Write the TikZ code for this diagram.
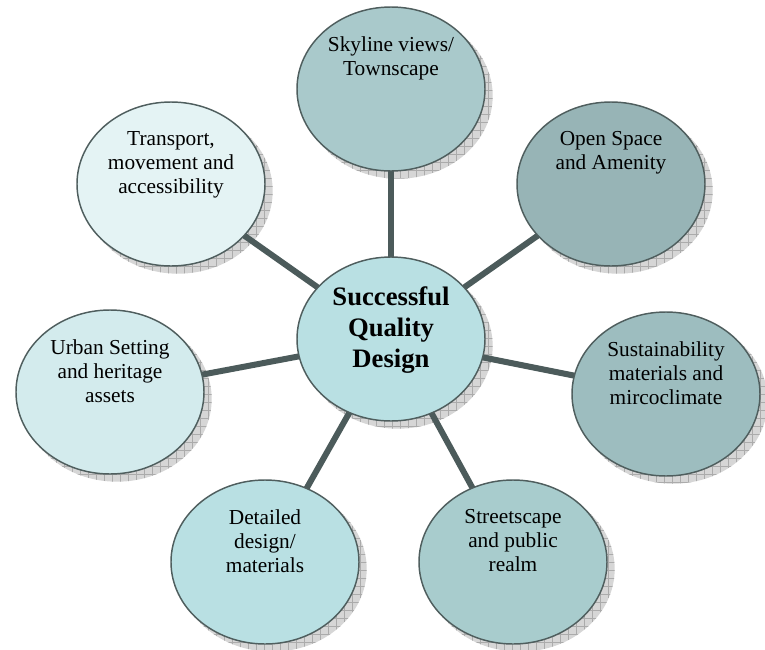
\documentclass[tikz,border=0pt]{standalone}
\usepackage{fontspec}
\setmainfont{Liberation Serif}
\usetikzlibrary{shapes.geometric,patterns.meta}

\definecolor{edgecol}{HTML}{4F5E5E}
\definecolor{linkcol}{HTML}{4C5B5B}
\definecolor{shadebg}{HTML}{D6D6D6}
\definecolor{shadeln}{HTML}{ABABAB}
\definecolor{cSky}{HTML}{A9C9CB}
\definecolor{cOpen}{HTML}{97B4B6}
\definecolor{cTrans}{HTML}{E4F3F4}
\definecolor{cUrban}{HTML}{D3EBED}
\definecolor{cHub}{HTML}{B9E0E3}
\definecolor{cSust}{HTML}{9DBDBF}
\definecolor{cDetail}{HTML}{B9E0E3}
\definecolor{cStreet}{HTML}{A8CCCD}

\pgfdeclarelayer{shade}
\pgfdeclarelayer{links}
\pgfsetlayers{shade,links,main}

\tikzset{
  bubble/.style={ellipse, draw=edgecol, line width=1.1pt, inner sep=0pt,
    minimum width=141pt, minimum height=123pt},
  lbl/.style={anchor=north, inner sep=0pt, align=center,
    font=\fontsize{16}{18}\selectfont},
  hublbl/.style={anchor=north, inner sep=0pt, align=center,
    font=\fontsize{20}{23.5}\selectfont\bfseries},
  link/.style={draw=linkcol, line width=4.5pt},
  shadow/.style={preaction={fill=shadebg},
    pattern={Hatch[angle=0,distance=6pt,line width=0.3pt]},
    pattern color=shadeln}
}

\begin{document}
\begin{tikzpicture}[x=0.75pt,y=-0.75pt]
\useasboundingbox (0,0) rectangle (765,650);

% bubbles
\node[bubble, fill=cHub]    (hub)    at (391,339) {};
\node[bubble, fill=cSky]    (sky)    at (391,89)  {};
\node[bubble, fill=cOpen]   (open)   at (611,184) {};
\node[bubble, fill=cTrans]  (trans)  at (171,184) {};
\node[bubble, fill=cUrban]  (urban)  at (110,392) {};
\node[bubble, fill=cSust]   (sust)   at (666,394) {};
\node[bubble, fill=cDetail] (detail) at (265,562) {};
\node[bubble, fill=cStreet] (street) at (513,562) {};

% labels, set near the top of each bubble
\node[hublbl] (hub-t)    at ([yshift=-22.5pt]hub.north)    {Successful\\Quality\\Design};
\node[lbl]    (sky-t)    at ([yshift=-22.5pt]sky.north)    {Skyline views/\\Townscape};
\node[lbl]    (open-t)   at ([yshift=-22.5pt]open.north)   {Open Space\\and Amenity};
\node[lbl]    (trans-t)  at ([yshift=-22.5pt]trans.north)  {Transport,\\movement and\\accessibility};
\node[lbl]    (urban-t)  at ([yshift=-22.5pt]urban.north)  {Urban Setting\\and heritage\\assets};
\node[lbl]    (sust-t)   at ([yshift=-22.5pt]sust.north)   {Sustainability\\materials and\\mircoclimate};
\node[lbl]    (detail-t) at ([yshift=-22.5pt]detail.north) {Detailed\\design/\\materials};
\node[lbl]    (street-t) at ([yshift=-22.5pt]street.north) {Streetscape\\and public\\realm};

% spokes from the hub
\begin{pgfonlayer}{links}
  \foreach \n in {sky,open,trans,urban,sust,detail,street}
    \draw[link] (hub.center) -- (\n.center);
\end{pgfonlayer}

% hatched drop shadows
\begin{pgfonlayer}{shade}
  \foreach \n in {hub,sky,open,trans,urban,sust,detail,street}
    \path[shadow] ([shift={(7,7)}]\n.center) ellipse [x radius=94.7, y radius=82.7];
\end{pgfonlayer}
\end{tikzpicture}
\end{document}
